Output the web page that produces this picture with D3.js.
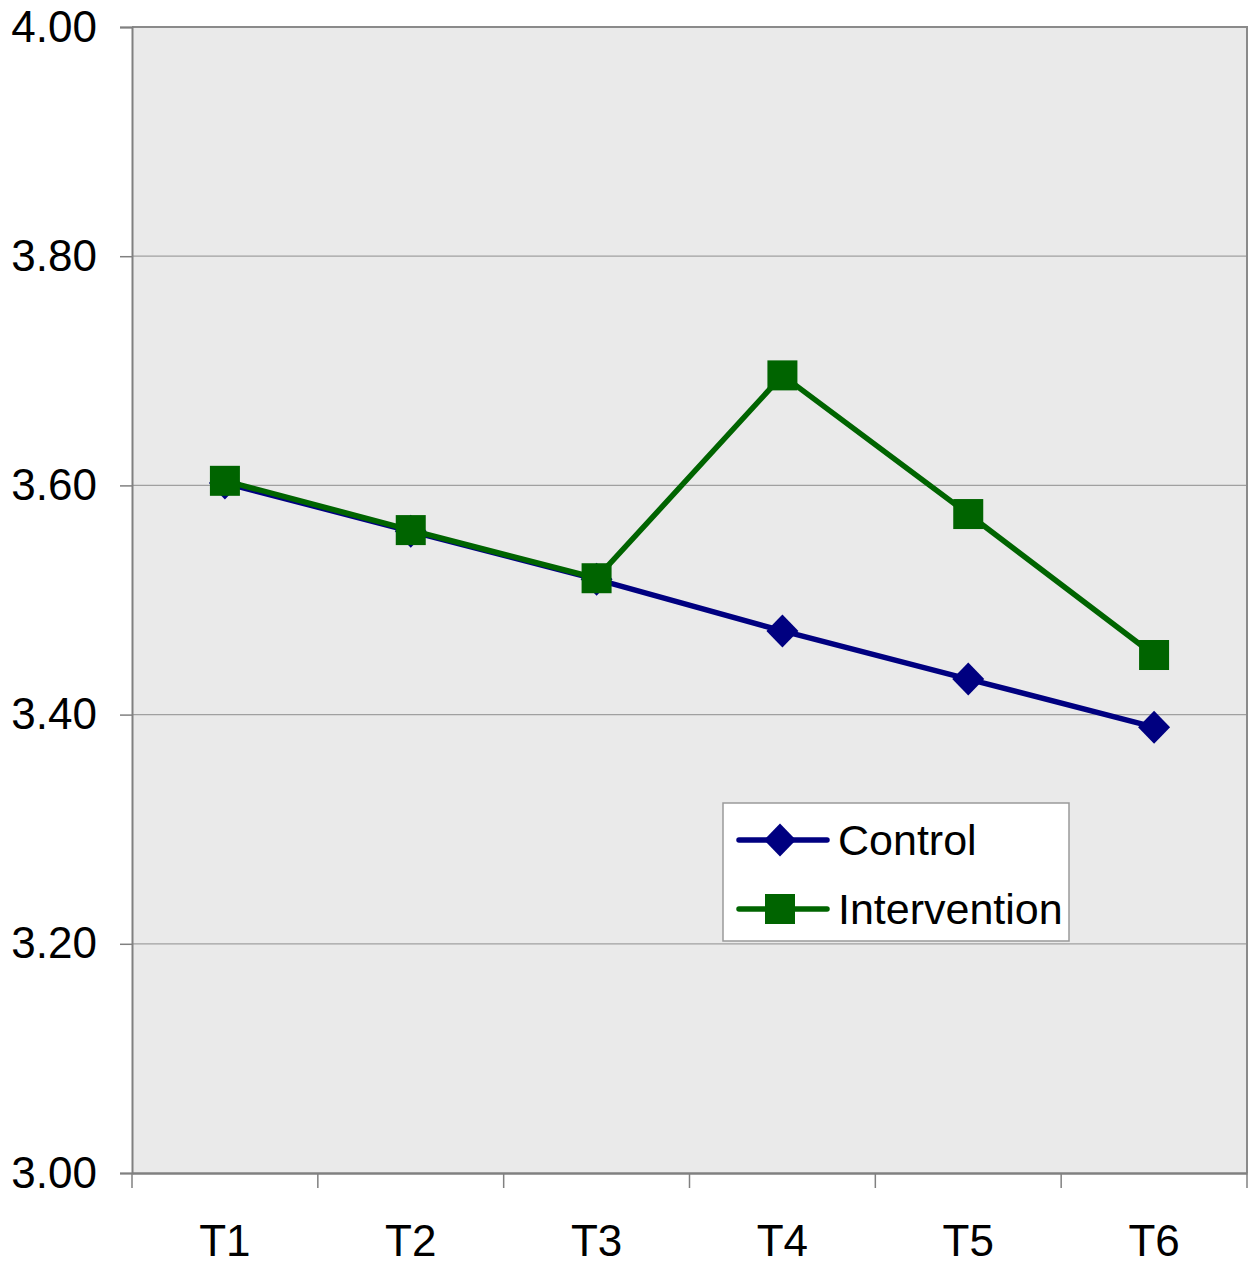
<!DOCTYPE html>
<html>
<head>
<meta charset="utf-8">
<script src="https://cdn.jsdelivr.net/npm/d3@7"></script>
<style>
  html, body { margin: 0; padding: 0; background: #ffffff; }
  svg { display: block; font-family: "Liberation Sans", Arial, sans-serif; }
</style>
</head>
<body>
<svg id="chart" width="1254" height="1264"></svg>
<script>
// Time points and mean scores for each group
const timePoints = ["T1", "T2", "T3", "T4", "T5", "T6"];
const controlValues = [3.602, 3.560, 3.518, 3.473, 3.431, 3.389];
const interventionValues = [3.604, 3.561, 3.519, 3.696, 3.575, 3.452];
const yTickValues = [3.00, 3.20, 3.40, 3.60, 3.80, 4.00];
const seriesNames = ["Control", "Intervention"];

const svg = d3.select("#chart");
const plot = { left: 132, right: 1247, top: 27, bottom: 1173 };

const x = d3.scaleBand().domain(timePoints).range([plot.left, plot.right]).padding(0);
const y = d3.scaleLinear().domain([3.0, 4.0]).range([plot.bottom, plot.top]);
const cx = d => x(d) + x.bandwidth() / 2;

// Plot background
svg.append("rect")
  .attr("x", plot.left).attr("y", plot.top)
  .attr("width", plot.right - plot.left).attr("height", plot.bottom - plot.top)
  .attr("fill", "#eaeaea");

// Horizontal gridlines
svg.append("g").selectAll("line")
  .data(yTickValues.filter(v => v > 3.0 && v < 4.0))
  .join("line")
  .attr("x1", plot.left).attr("x2", plot.right)
  .attr("y1", d => y(d)).attr("y2", d => y(d))
  .attr("stroke", "#a0a0a0").attr("stroke-width", 1.2);

// Plot frame (top and right edges)
svg.append("path")
  .attr("d", `M${plot.left},${plot.top}H${plot.right}V${plot.bottom}`)
  .attr("fill", "none").attr("stroke", "#8a8a8a").attr("stroke-width", 2);

// Y axis
const yAxis = svg.append("g")
  .attr("transform", `translate(${plot.left},0)`)
  .call(d3.axisLeft(y).tickValues(yTickValues).tickFormat(d3.format(".2f")).tickSize(12).tickPadding(23));
yAxis.select(".domain").attr("stroke", "#808080").attr("stroke-width", 2);
yAxis.selectAll(".tick line").attr("stroke", "#808080").attr("stroke-width", 1.5);
yAxis.selectAll(".tick text")
  .attr("fill", "#000").attr("font-size", 44)
  .attr("font-family", "'Liberation Sans', Arial, sans-serif");

// X axis: ticks at category boundaries, labels centred in each band
const xAxis = svg.append("g")
  .attr("transform", `translate(0,${plot.bottom})`)
  .call(d3.axisBottom(x).tickSize(0).tickPadding(52));
xAxis.select(".domain").attr("stroke", "#808080").attr("stroke-width", 2.5);
xAxis.selectAll(".tick text")
  .attr("fill", "#000").attr("font-size", 44)
  .attr("font-family", "'Liberation Sans', Arial, sans-serif");
const boundaries = timePoints.map(t => x(t)).concat([plot.right]);
svg.append("g").selectAll("line")
  .data(boundaries)
  .join("line")
  .attr("x1", d => d).attr("x2", d => d)
  .attr("y1", plot.bottom).attr("y2", plot.bottom + 15)
  .attr("stroke", "#808080").attr("stroke-width", 1.5);

// Series
const series = [
  { name: seriesNames[0], values: controlValues, color: "#000080", marker: "diamond" },
  { name: seriesNames[1], values: interventionValues, color: "#006400", marker: "square" }
];

const line = d3.line().x(d => cx(d.t)).y(d => y(d.v));

function drawMarker(g, kind, color) {
  if (kind === "diamond") {
    g.append("path").attr("d", "M0,-16.5L16,0L0,16.5L-16,0Z").attr("fill", color);
  } else {
    g.append("rect").attr("x", -15).attr("y", -15).attr("width", 30).attr("height", 30)
      .attr("fill", color);
  }
}

series.forEach(s => {
  const pts = timePoints.map((t, i) => ({ t, v: s.values[i] }));
  svg.append("path")
    .datum(pts)
    .attr("d", line)
    .attr("fill", "none")
    .attr("stroke", s.color)
    .attr("stroke-width", 5.5)
    .attr("stroke-linejoin", "round");
  pts.forEach(p => {
    const g = svg.append("g").attr("transform", `translate(${cx(p.t)},${y(p.v)})`);
    drawMarker(g, s.marker, s.color);
  });
});

// Legend
const legend = svg.append("g").attr("transform", "translate(723,803)");
legend.append("rect")
  .attr("x", 0).attr("y", 0).attr("width", 346).attr("height", 138)
  .attr("fill", "#ffffff").attr("stroke", "#9a9a9a").attr("stroke-width", 1.5);
series.forEach((s, i) => {
  const row = legend.append("g").attr("transform", `translate(0,${37 + i * 69})`);
  row.append("line").attr("x1", 16).attr("x2", 104).attr("y1", 0).attr("y2", 0)
    .attr("stroke", s.color).attr("stroke-width", 5.5).attr("stroke-linecap", "round");
  const m = row.append("g").attr("transform", "translate(57,0)");
  drawMarker(m, s.marker, s.color);
  row.append("text")
    .attr("x", 115).attr("y", 0).attr("dy", "0.36em")
    .attr("font-size", 43).attr("fill", "#000")
    .text(s.name);
});
</script>
</body>
</html>
